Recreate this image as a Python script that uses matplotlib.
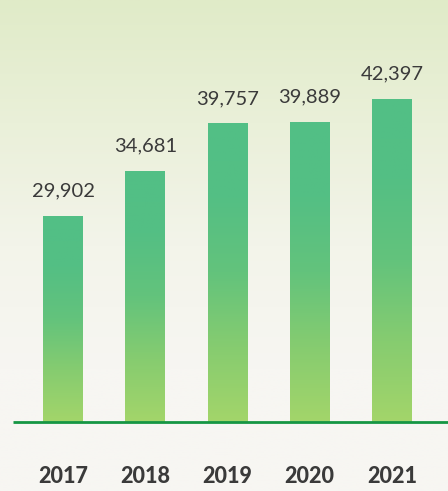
import numpy as np
import matplotlib
matplotlib.use('Agg')
import matplotlib.pyplot as plt
from matplotlib.colors import LinearSegmentedColormap

years = ['2017', '2018', '2019', '2020', '2021']
values = [29902, 34681, 39757, 39889, 42397]

plt.rcParams['font.family'] = ['Lato', 'DejaVu Sans']

fig = plt.figure(figsize=(4.48, 4.91), dpi=100)

# background: pale green at top fading to off-white
bg = fig.add_axes([0, 0, 1, 1])
bg.set_axis_off()
bg_cmap = LinearSegmentedColormap.from_list('bg', ['#e0ebc8', '#eaf0d9', '#f3f4ea', '#f7f6f2', '#f7f6f2'])
bg.imshow(np.linspace(0, 1, 256).reshape(-1, 1), aspect='auto', cmap=bg_cmap,
          extent=[0, 1, 0, 1], origin='upper')
bg.set_xlim(0, 1)
bg.set_ylim(0, 1)

ax = fig.add_axes([0, 69 / 491, 1, 422 / 491])
ax.set_facecolor('none')
x = np.arange(len(years))
ymin, ymax = 7880, 52936

bar_cmap = LinearSegmentedColormap.from_list('bar', ['#a3d56a', '#86cc70', '#63c37c', '#54bf84', '#52bf86'])
bars = ax.bar(x, np.array(values) - ymin, bottom=ymin, width=0.486, color='none', edgecolor='none')
grad = np.linspace(0, 1, 256).reshape(-1, 1)
for b in bars:
    im = ax.imshow(grad, aspect='auto', cmap=bar_cmap, origin='lower',
                   extent=[b.get_x(), b.get_x() + b.get_width(), ymin, b.get_y() + b.get_height()],
                   zorder=2)
    im.set_clip_path(b)

ax.set_xlim(-0.766, 4.681)
ax.set_ylim(ymin, ymax)

# baseline
ax.plot([-0.61, 4.681], [ymin, ymin], color='#159643', lw=2.0, solid_capstyle='butt',
        zorder=3, clip_on=False)

for xi, v, yr in zip(x, values, years):
    ax.annotate(f'{v:,}', (xi, v), xytext=(0, 18), textcoords='offset points',
                ha='center', va='center', fontsize=14.5, color='#3a3a3a')
    ax.annotate(yr, (xi, ymin), xytext=(0, -39.4), textcoords='offset points',
                ha='center', va='center', fontsize=15.5, fontweight='black',
                color='#3a3a3a', annotation_clip=False)

ax.set_axis_off()
fig.savefig('out.png', dpi=100)
